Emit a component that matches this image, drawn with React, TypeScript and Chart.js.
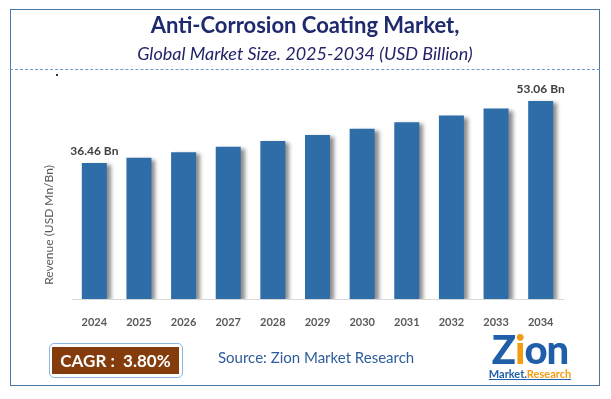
import React, { useEffect, useRef } from "react";
import { Chart, registerables } from "chart.js";

Chart.register(...registerables);

const years = ["2024", "2025", "2026", "2027", "2028", "2029", "2030", "2031", "2032", "2033", "2034"];
const revenue = [36.46, 37.85, 39.29, 40.78, 42.33, 43.94, 45.61, 47.34, 49.14, 51.01, 53.06];
const labelledIndexes = [0, 10];
const labelSuffix = " Bn";
const titleText = "Anti-Corrosion Coating Market,";
const subtitleText = "Global Market Size. 2025-2034 (USD Billion)";
const yTitle = "Revenue (USD Mn/Bn)";
const cagrText = "CAGR :  3.80%";
const sourceText = "Source: Zion Market Research";

const FONT = "Lato, 'Open Sans', sans-serif";

const shadowPlugin = {
  id: "barShadow",
  beforeDatasetsDraw(chart: any) {
    const ctx = chart.ctx;
    ctx.save();
    ctx.shadowColor = "rgba(0,0,0,0.45)";
    ctx.shadowBlur = 4;
    ctx.shadowOffsetX = 4;
    ctx.shadowOffsetY = 2;
  },
  afterDatasetsDraw(chart: any) {
    chart.ctx.restore();
  },
};

const labelPlugin = {
  id: "endLabels",
  afterDraw(chart: any) {
    const ctx = chart.ctx;
    const meta = chart.getDatasetMeta(0);
    ctx.save();
    ctx.font = `bold 12px ${FONT}`;
    ctx.fillStyle = "#404040";
    ctx.textAlign = "center";
    ctx.textBaseline = "bottom";
    labelledIndexes.forEach((i) => {
      const bar = meta.data[i];
      ctx.fillText(revenue[i].toFixed(2) + labelSuffix, bar.x, bar.y - 6);
    });
    ctx.translate(49, 225);
    ctx.rotate(-Math.PI / 2);
    ctx.font = `12px ${FONT}`;
    ctx.fillStyle = "#595959";
    ctx.textBaseline = "middle";
    ctx.fillText(yTitle, 0, 0);
    ctx.restore();
  },
};

export default function App() {
  const ref = useRef<HTMLCanvasElement>(null);
  useEffect(() => {
    const chart = new Chart(ref.current!, {
      type: "bar",
      data: {
        labels: years,
        datasets: [
          {
            data: revenue,
            backgroundColor: "#2E6DA8",
            barPercentage: 0.56,
            categoryPercentage: 1,
          },
        ],
      },
      options: {
        animation: false,
        responsive: false,
        layout: { padding: { left: 72, right: 48, top: 75, bottom: 0 } },
        plugins: { legend: { display: false }, tooltip: { enabled: false }, title: { display: false } },
        scales: {
          y: { display: false, min: 0, max: 60 },
          x: {
            grid: { display: false },
            border: { display: true, color: "#D9D9D9", width: 1 },
            ticks: { color: "#595959", font: { family: FONT, size: 11, weight: "bold" }, padding: 9 },
            afterFit(scale: any) {
              scale.height = 100;
            },
          },
        },
      },
      plugins: [shadowPlugin, labelPlugin],
    });
    return () => chart.destroy();
  }, []);

  return (
    <div style={{ position: "fixed", left: 0, top: 0, width: 611, height: 399, background: "#fff", fontFamily: FONT }}>
      <canvas ref={ref} width={611} height={399} style={{ position: "absolute", left: 0, top: 0 }} />
      <div style={{ position: "absolute", left: 10, top: 9, width: 590, height: 377, border: "1.5px solid #4A76A8", boxSizing: "border-box", pointerEvents: "none" }} />
      <div style={{ position: "absolute", left: 10, width: 590, top: 12, textAlign: "center", fontWeight: "bold", fontSize: 22, color: "#1F2A6E", lineHeight: "26px", whiteSpace: "nowrap" }}>{titleText}</div>
      <div style={{ position: "absolute", left: 10, width: 590, top: 43, textAlign: "center", fontStyle: "italic", fontSize: 18, color: "#23236A", lineHeight: "20px", whiteSpace: "nowrap" }}>{subtitleText}</div>
      <div style={{ position: "absolute", left: 10, width: 590, top: 69, borderTop: "1.5px dashed #6E97D2" }} />
      <div style={{ position: "absolute", left: 56, top: 74, width: 2, height: 2, background: "#333" }} />
      <div style={{ position: "absolute", left: 49, top: 343, width: 134, height: 35, border: "1px solid #8DB3E2", borderRadius: 5, boxSizing: "border-box", background: "#fff" }}>
        <div style={{ position: "absolute", left: 2, top: 3, right: 3, bottom: 3, background: "#843C0C", color: "#fff", fontWeight: "bold", fontSize: 17, display: "flex", alignItems: "center", justifyContent: "center", whiteSpace: "pre" }}>{cagrText}</div>
      </div>
      <div style={{ position: "absolute", left: 218, top: 348, fontSize: 15, color: "#2F5D9C", whiteSpace: "nowrap" }}>{sourceText}</div>
      <div style={{ position: "absolute", left: 486, top: 330, width: 88, textAlign: "center" }}>
        <div style={{ fontWeight: 900, fontSize: 40, lineHeight: "38px", color: "#1F5FAA", letterSpacing: -1 }}>
          <span>Z</span><span style={{ color: "#F39C12" }}>i</span><span>on</span>
        </div>
        <div style={{ fontWeight: "bold", fontSize: 11, lineHeight: "12px", whiteSpace: "nowrap", textDecoration: "underline", textDecorationColor: "#1F5FAA" }}>
          <span style={{ color: "#1F5FAA" }}>Market.</span><span style={{ color: "#F39C12" }}>Research</span>
        </div>
      </div>
    </div>
  );
}
